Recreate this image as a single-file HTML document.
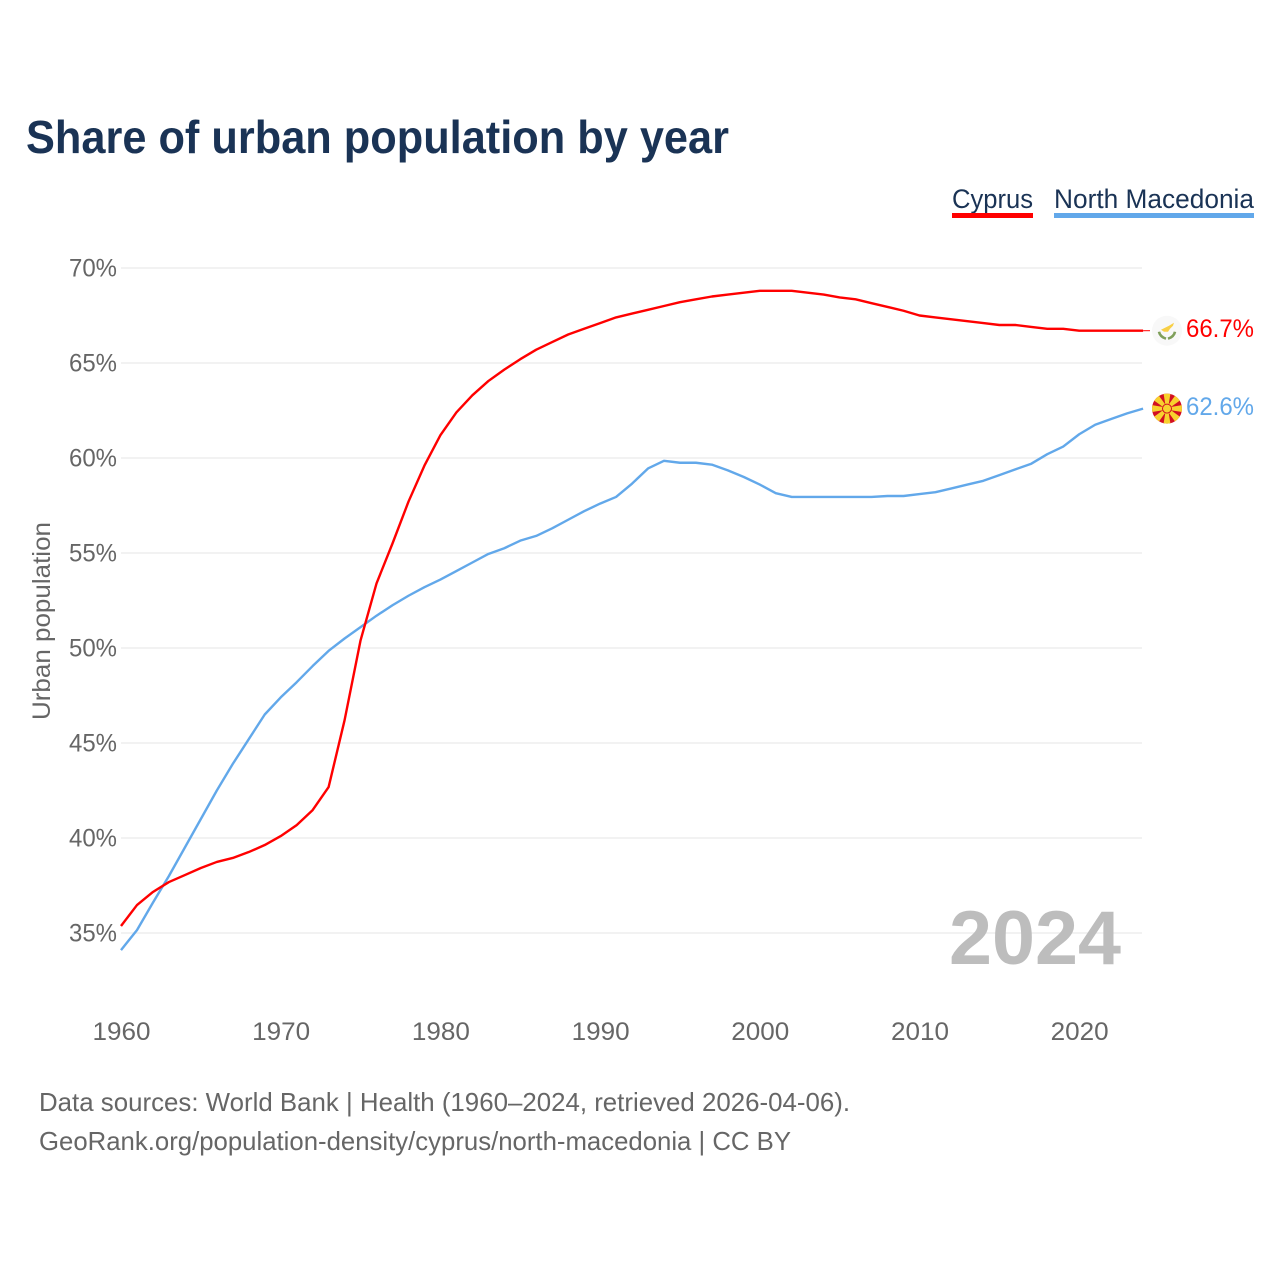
<!DOCTYPE html>
<html lang="en">
<head>
<meta charset="utf-8">
<title>Share of urban population by year</title>
<style>
html,body{margin:0;padding:0;background:#fff;}
svg{display:block;font-family:"Liberation Sans",sans-serif;}
</style>
</head>
<body>
<svg id="chart" width="1280" height="1280" viewBox="0 0 1280 1280" xmlns="http://www.w3.org/2000/svg">
  <rect x="0" y="0" width="1280" height="1280" fill="#ffffff"/>
  <text x="26" y="153" font-size="46" font-weight="700" fill="#1a3355" textLength="703" lengthAdjust="spacingAndGlyphs">Share of urban population by year</text>

  <g>
    <text x="952" y="208" font-size="27" fill="#1a3355" textLength="81" lengthAdjust="spacingAndGlyphs">Cyprus</text>
    <rect x="952" y="213" width="81" height="5" fill="#ff0000"/>
  </g>
  <g>
    <text x="1054" y="208" font-size="27" fill="#1a3355" textLength="200" lengthAdjust="spacingAndGlyphs">North Macedonia</text>
    <rect x="1054" y="213" width="200" height="5" fill="#62a8ea"/>
  </g>

  <g id="grid"></g>
  <g id="yTicks"></g>
  <g id="xTicks"></g>
  <text transform="translate(50 621) rotate(-90)" text-anchor="middle" font-size="25" fill="#666666" textLength="198" lengthAdjust="spacingAndGlyphs">Urban population</text>

  <text x="949" y="964" font-size="76" font-weight="700" fill="#bdbdbd" textLength="172" lengthAdjust="spacingAndGlyphs">2024</text>

  <g id="series"></g>

  <g id="flagCyprus">
    <circle cx="0" cy="0" r="15" fill="#f8f8f8"/>
    <path d="M-6,-1 L-2,-3 L2,-5 L7,-8 L6,-5 L3,-2 L1,1 L-3,1 Z" fill="#f8cf45"/>
    <path d="M-8,1 Q-7,6 -1,8" fill="none" stroke="#7f9f5a" stroke-width="2.6"/>
    <path d="M8,1 Q7,6 1,8" fill="none" stroke="#7f9f5a" stroke-width="2.6"/>
  </g>
  <g id="flagMacedonia">
    <defs>
      <clipPath id="mkClip"><circle cx="0" cy="0" r="15"/></clipPath>
    </defs>
    <circle cx="0" cy="0" r="15" fill="#d20f22"/>
    <g clip-path="url(#mkClip)" fill="#f8d12e">
      <path d="M-1,0 L1,0 L3.6,-16 L-3.6,-16 Z"/>
      <path d="M-1,0 L1,0 L3.6,-16 L-3.6,-16 Z" transform="rotate(45)"/>
      <path d="M-1,0 L1,0 L3.6,-16 L-3.6,-16 Z" transform="rotate(90)"/>
      <path d="M-1,0 L1,0 L3.6,-16 L-3.6,-16 Z" transform="rotate(135)"/>
      <path d="M-1,0 L1,0 L3.6,-16 L-3.6,-16 Z" transform="rotate(180)"/>
      <path d="M-1,0 L1,0 L3.6,-16 L-3.6,-16 Z" transform="rotate(225)"/>
      <path d="M-1,0 L1,0 L3.6,-16 L-3.6,-16 Z" transform="rotate(270)"/>
      <path d="M-1,0 L1,0 L3.6,-16 L-3.6,-16 Z" transform="rotate(315)"/>
    </g>
    <circle cx="0" cy="0" r="4.5" fill="#f8d12e" stroke="#d20f22" stroke-width="1"/>
  </g>

  <text x="39" y="1111" font-size="26" fill="#666666" textLength="811" lengthAdjust="spacingAndGlyphs">Data sources: World Bank | Health (1960–2024, retrieved 2026-04-06).</text>
  <text x="39" y="1150" font-size="26" fill="#666666" textLength="752" lengthAdjust="spacingAndGlyphs">GeoRank.org/population-density/cyprus/north-macedonia | CC BY</text>
</svg>
<script>
const startYear = 1960;
const cyprusValues = [35.37,36.47,37.16,37.68,38.05,38.42,38.74,38.95,39.26,39.63,40.1,40.68,41.47,42.68,46.2,50.4,53.4,55.5,57.7,59.6,61.2,62.4,63.3,64.05,64.65,65.2,65.7,66.1,66.5,66.8,67.1,67.4,67.6,67.8,68.0,68.2,68.35,68.5,68.6,68.7,68.8,68.8,68.8,68.7,68.6,68.45,68.35,68.15,67.95,67.75,67.5,67.4,67.3,67.2,67.1,67.0,67.0,66.9,66.8,66.8,66.7,66.7,66.7,66.7,66.7];
const macedoniaValues = [34.1,35.15,36.6,38.0,39.5,41.0,42.5,43.9,45.2,46.5,47.4,48.2,49.05,49.85,50.5,51.1,51.7,52.25,52.75,53.2,53.6,54.05,54.5,54.95,55.25,55.65,55.9,56.3,56.75,57.2,57.6,57.95,58.65,59.45,59.85,59.75,59.75,59.65,59.35,59.0,58.6,58.15,57.95,57.95,57.95,57.95,57.95,57.95,58.0,58.0,58.1,58.2,58.4,58.6,58.8,59.1,59.4,59.7,60.2,60.6,61.25,61.75,62.05,62.35,62.6];
const yTickValues = [35,40,45,50,55,60,65,70];
const xTickValues = [1960,1970,1980,1990,2000,2010,2020];

const NS = 'http://www.w3.org/2000/svg';
function xScale(year){ return 121 + (year - 1960) * 15.97; }
function yScale(v){ return 268 + (70 - v) * 19; }
function make(tag, attrs, parent, txt){
  const el = document.createElementNS(NS, tag);
  for (const k in attrs) el.setAttribute(k, attrs[k]);
  if (txt !== undefined) el.textContent = txt;
  parent.appendChild(el);
  return el;
}
const grid = document.getElementById('grid');
const yTicks = document.getElementById('yTicks');
const xTicks = document.getElementById('xTicks');
const series = document.getElementById('series');

yTickValues.forEach(function(v){
  const line = make('line', {x1:121, x2:1142, y1:yScale(v), y2:yScale(v), stroke:'#eeeeee', 'stroke-width':1.5}, grid);
  
  
  const t = make('text', {x:69, y:yScale(v)+8.5, 'font-size':25, fill:'#666666', textLength:48, lengthAdjust:'spacingAndGlyphs'}, yTicks, v + '%');
  
  
});
xTickValues.forEach(function(y){
  const t = make('text', {x:xScale(y)-28.5, y:1040, 'font-size':25, fill:'#666666', textLength:58, lengthAdjust:'spacingAndGlyphs'}, xTicks, String(y));
  
  
});
function pathFor(values){
  return values.map(function(v, i){
    return (i ? 'L' : 'M') + xScale(startYear + i).toFixed(2) + ',' + yScale(v).toFixed(2);
  }).join(' ');
}
const lineMacedonia = make('path', {d:pathFor(macedoniaValues), fill:'none', stroke:'#62a8ea', 'stroke-width':2.4, 'stroke-linejoin':'round'}, series);


const lineCyprus = make('path', {d:pathFor(cyprusValues), fill:'none', stroke:'#ff0000', 'stroke-width':2.4, 'stroke-linejoin':'round'}, series);



const lastYear = startYear + cyprusValues.length - 1;
const cyprusLast = cyprusValues[cyprusValues.length - 1];
const macedoniaLast = macedoniaValues[macedoniaValues.length - 1];
const connector = make('line', {x1:xScale(lastYear), x2:1150, y1:yScale(cyprusLast), y2:yScale(cyprusLast), stroke:'#ff0000', 'stroke-width':1}, series);


document.getElementById('flagCyprus').setAttribute('transform', 'translate(1167 ' + yScale(cyprusLast) + ')');
document.getElementById('flagMacedonia').setAttribute('transform', 'translate(1167 ' + yScale(macedoniaLast) + ')');
const labelCyprus = make('text', {x:1186, y:yScale(cyprusLast)+6.5, 'font-size':25, fill:'#ff0000', textLength:68, lengthAdjust:'spacingAndGlyphs'}, series, cyprusLast.toFixed(1) + '%');


const labelMacedonia = make('text', {x:1186, y:yScale(macedoniaLast)+6.5, 'font-size':25, fill:'#62a8ea', textLength:68, lengthAdjust:'spacingAndGlyphs'}, series, macedoniaLast.toFixed(1) + '%');


</script>
</body>
</html>
